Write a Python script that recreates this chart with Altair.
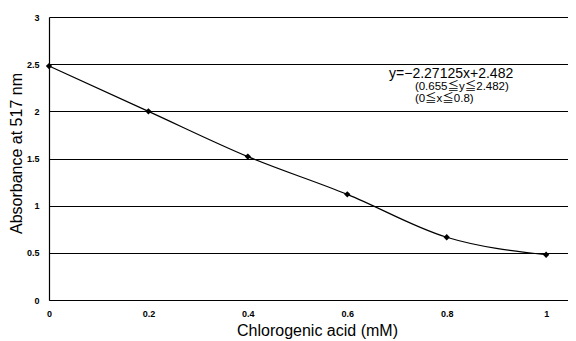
import altair as alt
import pandas as pd

conc = [0, 0.2, 0.4, 0.6, 0.8, 1.0]
absorb = [2.48, 2.0, 1.52, 1.12, 0.665, 0.48]
x_ticks = [0, 0.2, 0.4, 0.6, 0.8, 1]
y_ticks = [0, 0.5, 1, 1.5, 2, 2.5, 3]

ann_text = ["y=\u22122.27125x+2.482", "(0.655\u2266y\u22662.482)", "(0\u2266x\u22660.8)"]
ann_x = [0.684, 0.736, 0.736]
ann_y = [2.40, 2.262, 2.128]
ann_size = [14, 11.5, 11.5]

df = pd.DataFrame({"x": conc, "y": absorb})
ann = pd.DataFrame({"x": ann_x, "y": ann_y, "t": ann_text, "s": ann_size})

FONT = "Liberation Sans"
ANN_FONT = "Liberation Sans, Noto Sans CJK JP"

xs = alt.Scale(domain=[0, 1.044], nice=False, zero=False)
ys = alt.Scale(domain=[0, 3], nice=False)

base = alt.Chart(df)

line = base.mark_line(color="black", strokeWidth=1.2, interpolate="monotone").encode(
    x=alt.X("x:Q", scale=xs,
            axis=alt.Axis(values=x_ticks, format="~g", title="Chlorogenic acid (mM)", grid=False, ticks=False,
                          domainColor="black", domainWidth=1.2, labelFont=FONT, labelFontSize=9,
                          labelFontWeight="bold", labelColor="black", labelPadding=9,
                          titleFont=FONT, titleFontSize=16, titleFontWeight="normal",
                          titleColor="black", titlePadding=4, titleX=268, labelFlush=False)),
    y=alt.Y("y:Q", scale=ys,
            axis=alt.Axis(values=y_ticks, format="~g", title="Absorbance at 517 nm", grid=True, gridColor="black",
                          gridWidth=1.2, gridOpacity=1, ticks=False, domainColor="black", domainWidth=1.2,
                          labelFont=FONT, labelFontSize=9, labelFontWeight="bold", labelColor="black",
                          labelPadding=10, titleFont=FONT, titleFontSize=16, titleFontWeight="normal",
                          titleColor="black", titlePadding=2, titleY=136, labelFlush=False)),
)

pts = base.mark_point(shape="diamond", filled=True, color="black", size=40, opacity=1).encode(
    x=alt.X("x:Q", scale=xs), y=alt.Y("y:Q", scale=ys)
)

txt = alt.Chart(ann).mark_text(align="left", baseline="middle", font=ANN_FONT, color="black").encode(
    x=alt.X("x:Q", scale=xs), y=alt.Y("y:Q", scale=ys), text="t:N",
    size=alt.Size("s:Q", scale=None, legend=None)
)

chart = alt.layer(line, pts, txt).properties(
    width=519, height=283,
    autosize=alt.AutoSizeParams(type="none"),
    padding={"left": 41, "top": 9, "right": 0, "bottom": 41},
).configure_view(stroke=None).configure(background="white")

chart.save("out.html", embed_options={"renderer": "svg", "actions": False})
